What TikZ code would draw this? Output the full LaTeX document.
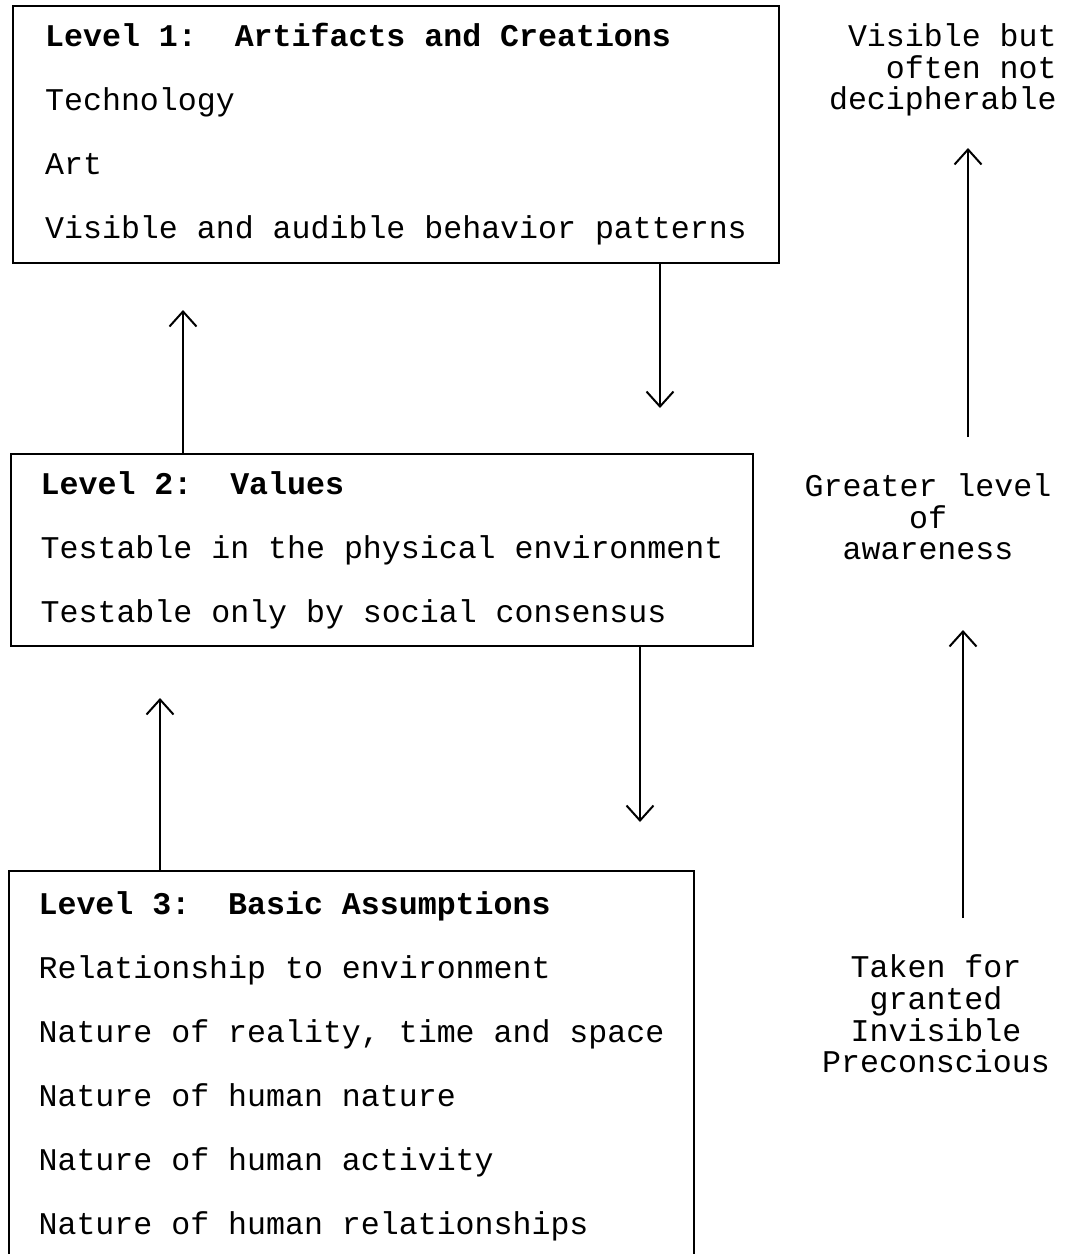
\documentclass[tikz,border=0pt]{standalone}
\usepackage{fontspec}
\setmainfont{Liberation Mono}
\usetikzlibrary{arrows.meta,positioning}

\begin{document}
\begin{tikzpicture}[x=0.5pt,y=-0.5pt,
          level/.style={draw,rectangle,line width=1pt,align=left,inner sep=0pt,anchor=north west,font=\fontsize{15.8}{32}\selectfont},
          lab/.style={inner sep=0pt,font=\fontsize{15.8}{15.8}\selectfont},
          every edge/.style={draw,line width=1pt,-{Straight Barb[length=7.5pt,width=13.5pt]}}
        ]
        \useasboundingbox (0,0) rectangle (1073,1254);

        %levels
        \node[level,minimum width=383pt,minimum height=128.5pt] (lvl1) at (12,5)
          {\textbf{Level 1:\ \ Artifacts and Creations}\\Technology\\Art\\Visible and audible behavior patterns};
        \node[level,minimum width=371pt,minimum height=96pt] (lvl2) at (10,453)
          {\textbf{Level 2:\ \ Values}\\Testable in the physical environment\\Testable only by social consensus};
        \node[level,minimum width=342.5pt,minimum height=195pt] (lvl3) at (8,870)
          {\textbf{Level 3:\ \ Basic Assumptions}\\Relationship to environment\\Nature of reality, time and space\\Nature of human nature\\Nature of human activity\\Nature of human relationships};

        %labels
        \node[lab,align=right,anchor=east] (visible) at (1057,70) {Visible but\\often not\\decipherable};
        \node[lab,align=center] (aware) at (928,517) {Greater level\\of\\awareness};
        \node[lab,align=center] (taken) at (936,1014) {Taken for\\granted\\Invisible\\Preconscious};

        %arrows
        \coordinate (t1) at (660,408);
        \coordinate (t2) at (183,310);
        \coordinate (t3) at (640,822);
        \coordinate (t4) at (160,698);
        \coordinate (s5) at (968,437);
        \coordinate (t5) at (968,148);
        \coordinate (s6) at (963,918);
        \coordinate (t6) at (963,630);
        \path
        (lvl1.south -| t1) edge (t1)
        (lvl2.north -| t2) edge (t2)
        (lvl2.south -| t3) edge (t3)
        (lvl3.north -| t4) edge (t4)
        (s5) edge (t5)
        (s6) edge (t6)
        ;
    \end{tikzpicture}
\end{document}
